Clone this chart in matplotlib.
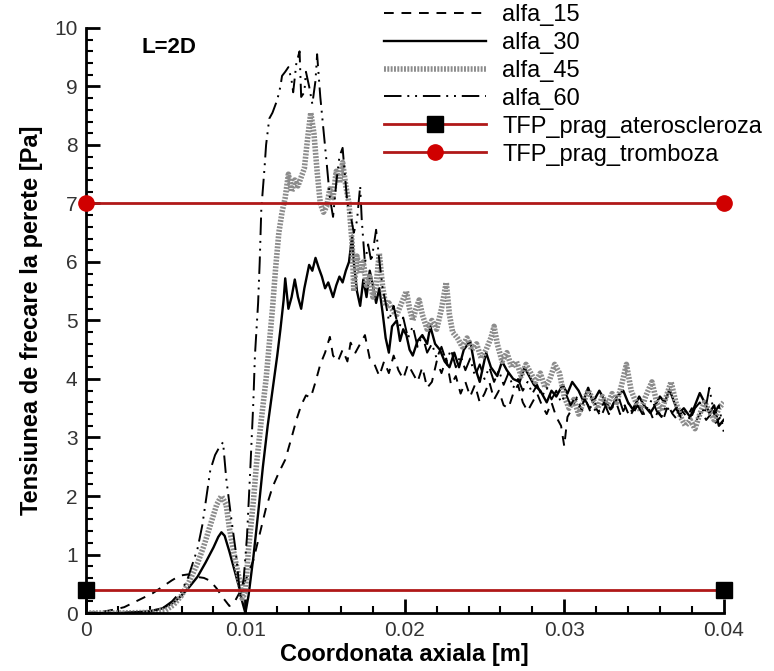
import matplotlib
matplotlib.use("Agg")
import matplotlib.pyplot as plt
from matplotlib.ticker import MultipleLocator, FuncFormatter

plt.rcParams['font.family'] = ['Liberation Sans', 'DejaVu Sans']

# ---- wall shear stress along the axial coordinate ----
x15 = [0, 0.001, 0.0018, 0.0024, 0.003, 0.0036, 0.0042, 0.0048, 0.0054, 0.0059,
       0.0064, 0.0069, 0.0074, 0.0078, 0.0082, 0.0086, 0.009, 0.0093, 0.0097, 0.0101,
       0.0105, 0.0109, 0.0113, 0.0117, 0.0121, 0.0125, 0.0129, 0.0132, 0.0135, 0.0138,
       0.0141, 0.0144, 0.0147, 0.015, 0.0153, 0.0155, 0.0158, 0.0161, 0.0164, 0.0166,
       0.0169, 0.0172, 0.0175, 0.0178, 0.0181, 0.0184, 0.0187, 0.019, 0.0193, 0.0196,
       0.0199, 0.0202, 0.0205, 0.0208, 0.0211, 0.0214, 0.0217, 0.022, 0.0223, 0.0226,
       0.0229, 0.0232, 0.0235, 0.0238, 0.0241, 0.0244, 0.0247, 0.025, 0.0253, 0.0256,
       0.0259, 0.0262, 0.0265, 0.0268, 0.0271, 0.0274, 0.0277, 0.028, 0.0283, 0.0286,
       0.0289, 0.0292, 0.0295, 0.0298, 0.03, 0.0302, 0.0305, 0.0308, 0.0311, 0.0314,
       0.0317, 0.032, 0.0323, 0.0326, 0.0329, 0.0332, 0.0335, 0.0338, 0.0341, 0.0344,
       0.0347, 0.035, 0.0353, 0.0356, 0.0359, 0.0362, 0.0365, 0.0368, 0.0371, 0.0374,
       0.0377, 0.038, 0.0383, 0.0386, 0.0389, 0.0392, 0.0395, 0.0398, 0.04]
y15 = [0, 0.02, 0.06, 0.1, 0.18, 0.26, 0.34, 0.45, 0.56, 0.64,
       0.66, 0.62, 0.6, 0.55, 0.42, 0.26, 0.12, 0.18, 0.38, 0.62,
       0.9, 1.35, 1.8, 2.15, 2.4, 2.62, 3.0, 3.3, 3.55, 3.72,
       3.68, 3.95, 4.25, 4.45, 4.72, 4.4, 4.3, 4.5, 4.3, 4.62,
       4.45, 4.6, 4.75, 4.35, 4.25, 4.05, 4.3, 4.1, 4.4, 4.15,
       4.0, 4.25, 4.1, 3.95, 4.2, 3.85, 3.95, 4.3, 4.1, 4.35,
       3.9, 4.05, 3.75, 3.95, 3.7, 3.9, 3.6, 3.75, 3.95, 3.65,
       3.8, 3.55, 3.5, 3.75, 3.9, 3.6, 3.45, 3.6, 3.75, 3.55,
       3.4, 3.6, 3.35, 3.2, 2.85, 3.35, 3.5, 3.7, 3.45, 3.6,
       3.4, 3.5, 3.35, 3.55, 3.45, 3.65, 3.4, 3.55, 3.35, 3.5,
       3.6, 3.4, 3.5, 3.3, 3.45, 3.3, 3.55, 3.4, 3.3, 3.45,
       3.35, 3.5, 3.3, 3.45, 3.3, 3.4, 3.25, 3.35, 3.3]

x30 = [0, 0.002, 0.003, 0.004, 0.0048, 0.0055, 0.006, 0.0065, 0.007, 0.0075,
       0.008, 0.0083, 0.0085, 0.0087, 0.009, 0.0093, 0.0096, 0.0098, 0.01, 0.0102,
       0.0105, 0.0108, 0.0111, 0.0114, 0.0117, 0.012, 0.0122, 0.0124, 0.0125, 0.0127,
       0.0129, 0.0131, 0.0133, 0.0135, 0.0137, 0.014, 0.0142, 0.0144, 0.0146, 0.0148,
       0.015, 0.0152, 0.0155, 0.0157, 0.0159, 0.0161, 0.0163, 0.0165, 0.0167, 0.0168,
       0.017, 0.0172, 0.0174, 0.0176, 0.0178, 0.018, 0.0182, 0.0184, 0.0186, 0.0188,
       0.019, 0.0192, 0.0195, 0.0197, 0.0199, 0.0201, 0.0203, 0.0205, 0.0208, 0.0211,
       0.0214, 0.0216, 0.0219, 0.0222, 0.0225, 0.0228, 0.0231, 0.0234, 0.0237, 0.0241,
       0.0244, 0.0247, 0.0251, 0.0254, 0.0258, 0.0261, 0.0264, 0.0268, 0.0272, 0.0275,
       0.0278, 0.0281, 0.0285, 0.0289, 0.0292, 0.0295, 0.0299, 0.0302, 0.0305, 0.0309,
       0.0312, 0.0315, 0.0318, 0.0322, 0.0325, 0.0329, 0.0333, 0.0337, 0.034, 0.0343,
       0.0347, 0.035, 0.0354, 0.0357, 0.036, 0.0363, 0.0366, 0.0369, 0.0372, 0.0375,
       0.0379, 0.0382, 0.0385, 0.0388, 0.0391, 0.0394, 0.0397, 0.04]
y30 = [0, 0.0, 0.01, 0.03, 0.08, 0.18, 0.3, 0.45, 0.62, 0.86,
       1.12, 1.3, 1.38, 1.32, 1.05, 0.75, 0.45, 0.2, 0.0, 0.3,
       0.95, 1.7, 2.5, 3.2, 3.8, 4.4, 4.85, 5.35, 5.72, 5.2,
       5.4, 5.7, 5.4, 5.2, 5.55, 5.95, 5.85, 6.07, 5.9, 5.75,
       5.55, 5.65, 5.4, 5.6, 5.75, 5.65, 5.85, 6.0, 6.45, 6.0,
       5.5, 5.25, 5.7, 5.4, 5.85, 5.6, 5.3, 5.55, 5.15, 4.7,
       4.45, 4.9, 5.0, 4.65, 4.85, 4.75, 4.5, 4.4, 4.65, 4.75,
       4.6, 4.9, 4.6, 4.5, 4.3, 4.2, 4.45, 4.2, 4.5, 4.65,
       4.2, 3.95, 4.45, 4.2, 4.05, 4.3, 4.15, 4.0, 3.95, 4.2,
       4.05, 3.9, 3.8, 3.6, 3.8, 3.7, 3.9, 3.75, 3.95, 3.8,
       3.62, 3.85, 3.6, 3.8, 3.65, 3.48, 3.7, 3.8, 3.6, 3.48,
       3.7, 3.55, 3.42, 3.55, 3.7, 3.6, 3.82, 3.6, 3.42, 3.5,
       3.35, 3.55, 3.76, 3.6, 3.42, 3.55, 3.2, 3.3]

x45 = [0, 0.002, 0.004, 0.005, 0.0055, 0.006, 0.0065, 0.007, 0.0074, 0.0078,
       0.0082, 0.0085, 0.0088, 0.009, 0.0093, 0.0096, 0.0098, 0.01, 0.0102, 0.0105,
       0.0107, 0.011, 0.0113, 0.0115, 0.0117, 0.0119, 0.0121, 0.0123, 0.0125, 0.0127,
       0.0129, 0.0131, 0.0133, 0.0135, 0.0137, 0.0139, 0.0141, 0.0143, 0.0145, 0.0147,
       0.0149, 0.0151, 0.0153, 0.0155, 0.0157, 0.0159, 0.0161, 0.0163, 0.0165, 0.0167,
       0.0168, 0.017, 0.0172, 0.0174, 0.0176, 0.0178, 0.018, 0.0182, 0.0184, 0.0186,
       0.0188, 0.019, 0.0193, 0.0195, 0.0198, 0.0201, 0.0203, 0.0205, 0.0207, 0.0209,
       0.0211, 0.0214, 0.0217, 0.022, 0.0223, 0.0226, 0.0228, 0.023, 0.0233, 0.0236,
       0.0239, 0.0242, 0.0245, 0.0248, 0.0251, 0.0254, 0.0256, 0.0258, 0.0261, 0.0264,
       0.0267, 0.027, 0.0273, 0.0276, 0.0279, 0.0282, 0.0285, 0.0288, 0.0291, 0.0294,
       0.0297, 0.03, 0.0303, 0.0306, 0.0309, 0.0312, 0.0315, 0.0318, 0.0321, 0.0324,
       0.0327, 0.033, 0.0333, 0.0336, 0.0339, 0.0342, 0.0345, 0.0348, 0.0351, 0.0355,
       0.0358, 0.0361, 0.0364, 0.0367, 0.037, 0.0373, 0.0376, 0.0379, 0.0382, 0.0385,
       0.0388, 0.0391, 0.0394, 0.0397, 0.04]
y45 = [0, 0, 0.01, 0.05, 0.14, 0.3, 0.55, 0.85, 1.15, 1.5,
       1.85, 2.0, 1.85, 1.45, 1.0, 0.6, 0.25, 0.35, 1.1, 1.9,
       2.55, 3.3, 4.0, 4.6, 5.2, 5.9, 6.5, 6.85, 7.1, 7.5,
       7.2, 7.4, 7.3, 7.45, 7.6, 8.1, 8.55, 8.2, 7.55, 7.0,
       6.85, 6.95, 7.25, 7.1, 7.55, 7.35, 7.7, 7.3, 7.0, 6.3,
       5.5, 6.1, 5.8, 6.0, 5.6, 5.75, 5.4, 5.6, 6.15, 5.6,
       5.25, 5.3, 5.15, 5.1, 5.3, 5.5, 5.2, 5.0, 5.2, 5.35,
       5.1, 4.85, 5.0, 4.85, 5.2, 5.65, 5.1, 4.8, 4.7, 4.55,
       4.7, 4.5, 4.6, 4.35, 4.5, 4.7, 4.9, 4.6, 4.3, 4.45,
       4.2, 4.3, 4.05, 4.25, 4.1, 3.95, 4.1, 3.85, 4.0, 4.25,
       4.1, 3.7, 3.5, 3.65, 3.4, 3.6, 3.8, 3.65, 3.5, 3.7,
       3.55, 3.75, 3.6, 3.9, 4.25, 3.8, 3.6, 3.45, 3.7, 3.95,
       3.6, 3.45, 3.7, 3.95, 3.6, 3.35, 3.2, 3.3, 3.15, 3.4,
       3.6, 3.45, 3.3, 3.5, 3.6]

x60 = [0, 0.002, 0.004, 0.0048, 0.0054, 0.006, 0.0064, 0.0067, 0.007, 0.0073,
       0.0075, 0.0078, 0.0081, 0.0083, 0.0086, 0.0088, 0.0091, 0.0094, 0.0096, 0.0097,
       0.0099, 0.0101, 0.0103, 0.0105, 0.0106, 0.0108, 0.0109, 0.011, 0.0112, 0.0113,
       0.0115, 0.0117, 0.012, 0.0122, 0.0123, 0.0125, 0.0127, 0.0129, 0.013, 0.0132,
       0.0134, 0.0135, 0.0137, 0.0138, 0.014, 0.0142, 0.0144, 0.0145, 0.0147, 0.0149,
       0.0151, 0.0153, 0.0155, 0.0157, 0.0159, 0.0161, 0.0162, 0.0164, 0.0166, 0.0168,
       0.017, 0.0172, 0.0173, 0.0175, 0.0177, 0.0179, 0.0182, 0.0184, 0.0186, 0.0188,
       0.019, 0.0193, 0.0196, 0.0199, 0.0202, 0.0205, 0.0208, 0.0211, 0.0214, 0.0217,
       0.022, 0.0223, 0.0226, 0.0229, 0.0232, 0.0235, 0.0238, 0.0241, 0.0244, 0.0247,
       0.025, 0.0253, 0.0256, 0.0259, 0.0262, 0.0265, 0.0268, 0.0271, 0.0274, 0.0277,
       0.028, 0.0283, 0.0286, 0.0289, 0.0292, 0.0295, 0.0298, 0.0301, 0.0304, 0.0307,
       0.031, 0.0313, 0.0316, 0.0319, 0.0322, 0.0325, 0.0328, 0.0331, 0.0334, 0.0337,
       0.034, 0.0343, 0.0346, 0.0349, 0.0352, 0.0355, 0.0358, 0.0361, 0.0364, 0.0367,
       0.037, 0.0373, 0.0376, 0.0379, 0.0382, 0.0385, 0.0388, 0.0391, 0.0394, 0.0397,
       0.04]
y60 = [0, 0, 0.02, 0.08, 0.2, 0.38, 0.6, 0.85, 1.1, 1.5,
       1.88, 2.44, 2.7, 2.8, 2.92, 2.3, 1.65, 1.05, 0.5, 0.27,
       0.6, 1.3, 2.4, 3.6, 4.4, 5.3, 6.0, 6.9, 7.6, 8.0,
       8.45, 8.55, 8.77, 9.0, 9.18, 9.25, 9.33, 9.1, 8.9, 9.4,
       9.6, 8.82, 8.9, 9.25, 9.0, 8.7, 9.1, 9.55, 8.82, 8.26,
       7.69, 7.1, 6.77, 7.35, 7.8, 7.95, 7.62, 7.0, 6.8, 6.5,
       6.7, 7.3, 6.72, 5.98, 6.3, 6.0, 6.55, 6.03, 5.57, 5.3,
       5.0, 5.25, 4.85, 5.05, 4.7, 4.9, 4.55, 4.75, 4.45, 4.6,
       4.35, 4.55, 4.3, 4.5, 4.2, 4.4, 4.15, 4.35, 4.05, 4.25,
       4.0, 4.2, 3.95, 4.15, 3.9, 4.1, 3.85, 4.0, 3.8, 3.95,
       3.75, 3.9, 3.7, 3.85, 3.65, 3.8, 3.6, 3.75, 3.55, 3.7,
       3.5, 3.65, 3.5, 3.6, 3.45, 3.6, 3.4, 3.55, 3.7, 3.45,
       3.6, 3.4, 3.55, 3.4, 3.5, 3.65, 3.45, 3.35, 3.55, 3.4,
       3.5, 3.35, 3.45, 3.3, 3.5, 3.6, 3.4, 3.85, 3.4, 3.55,
       3.1]

# threshold levels [Pa]
thr_x = [0.0, 0.04]
thr_ateroscleroza = [0.4, 0.4]
thr_tromboza = [7.0, 7.0]

series_labels = ['alfa_15', 'alfa_30', 'alfa_45', 'alfa_60',
                 'TFP_prag_ateroscleroza', 'TFP_prag_tromboza']

red = '#b01818'

fig = plt.figure(figsize=(7.74, 6.71), dpi=100)
ax = fig.add_axes([0.111, 0.0864, 0.824, 0.872])

l15, = ax.plot(x15, y15, color='black', lw=1.4, ls=(0, (5, 4)))
l30, = ax.plot(x30, y30, color='black', lw=1.7, ls='-')
l45, = ax.plot(x45, y45, color='#8c8c8c', lw=4.0, ls=(0, (0.35, 0.25)),
               solid_capstyle='butt', dash_capstyle='butt')
l60, = ax.plot(x60, y60, color='black', lw=1.4, ls=(0, (9, 3, 1, 3, 1, 3)))
la, = ax.plot(thr_x, thr_ateroscleroza, color=red, lw=2, marker='s',
              ms=11, mfc='black', mec='black', clip_on=False, zorder=5)
lt, = ax.plot(thr_x, thr_tromboza, color=red, lw=2, marker='o',
              ms=11, mfc='#d00000', mec='#d00000', clip_on=False, zorder=5)

ax.set_xlim(0, 0.04)
ax.set_ylim(0, 10)
ax.xaxis.set_major_locator(MultipleLocator(0.01))
ax.xaxis.set_minor_locator(MultipleLocator(0.002))
ax.yaxis.set_major_locator(MultipleLocator(1))
ax.yaxis.set_minor_locator(MultipleLocator(0.2))
ax.xaxis.set_major_formatter(FuncFormatter(lambda v, p: '0' if abs(v) < 1e-12 else f'{v:g}'))

for s in ['top', 'right']:
    ax.spines[s].set_visible(False)
for s in ['left', 'bottom']:
    ax.spines[s].set_linewidth(2)

ax.tick_params(which='major', direction='in', length=10, width=2,
               labelsize=15, labelcolor='#333333', pad=6)
ax.tick_params(which='minor', direction='in', length=5, width=1.5)

ax.set_xlabel('Coordonata axiala [m]', fontsize=17, fontweight='bold', labelpad=2)
ax.set_ylabel('Tensiunea de frecare la perete [Pa]', fontsize=17,
              fontweight='bold', labelpad=8)

ax.text(0.0035, 9.67, 'L=2D', fontsize=16, fontweight='bold', va='center')

leg = fig.legend([l15, l30, l45, l60, la, lt], series_labels,
                 loc='upper left', bbox_to_anchor=(384 / 774, 1 - 4 / 671),
                 frameon=False, fontsize=17, handlelength=4.3,
                 handletextpad=0.7, labelspacing=0.25, borderpad=0,
                 borderaxespad=0, markerscale=1.0)
for h in leg.legend_handles[4:]:
    h.set_markersize(11)

fig.savefig('out.png', dpi=100)
